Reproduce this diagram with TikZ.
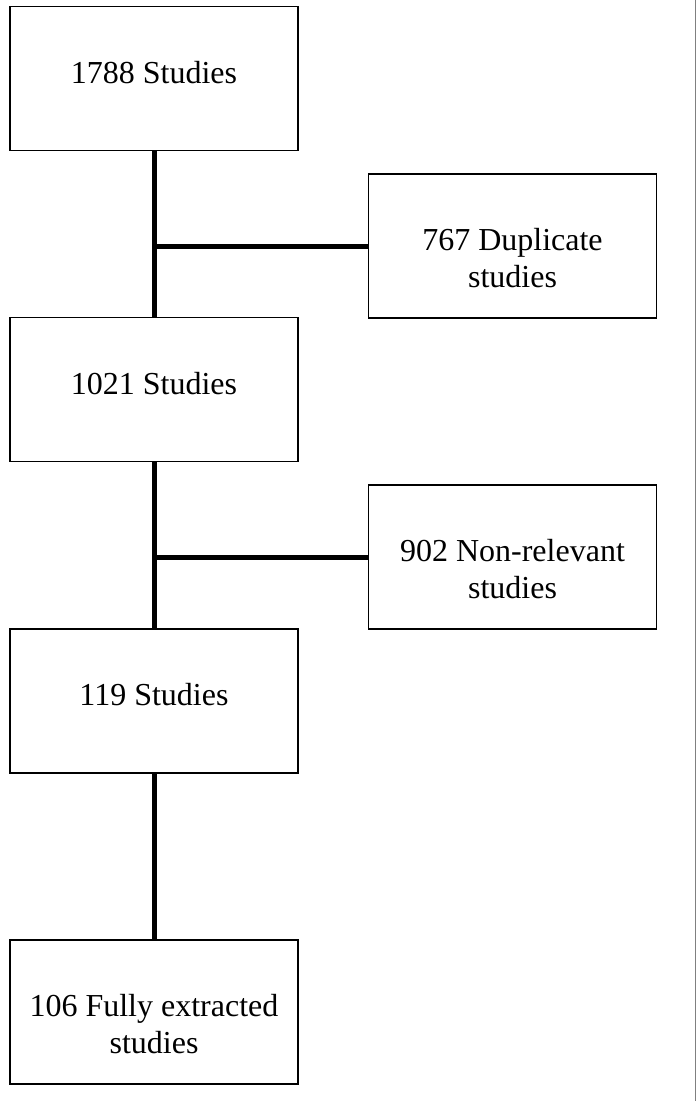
\documentclass[tikz,border=0pt]{standalone}
\usepackage{fontspec}
\setmainfont{Liberation Serif}
\usetikzlibrary{positioning}

% text hangs from the top of each box
\newcommand{\boxtext}[1]{\parbox[c][144pt][t]{288pt}{\centering\rule{0pt}{76.5pt}#1}}

\begin{document}
\begin{tikzpicture}
[x=1pt,y=-1pt,
 box/.style={draw,line width=1.8pt,rectangle,inner sep=0pt,
   font=\fontsize{32}{37}\selectfont},
 link/.style={line width=5pt}]
\useasboundingbox (0,0) rectangle (697,1101);

\node[box] (s1788) at (154,78.5) {\boxtext{1788 Studies}};
\node[box] (dup) at (512.5,246) {\boxtext{767 Duplicate\\studies}};
\node[box] (s1021) at (154,389.5) {\boxtext{1021 Studies}};
\node[box] (nonrel) at (512.5,557) {\boxtext{902 Non-relevant\\studies}};
\node[box] (s119) at (154,701) {\boxtext{119 Studies}};
\node[box] (s106) at (154,1012) {\boxtext{106 Fully extracted\\studies}};

\coordinate (j1) at (s1788.south |- dup.west);
\coordinate (j2) at (s1021.south |- nonrel.west);

\draw[link] (s1788.south) -- (s1021.north);
\draw[link] (j1) -- (dup.west);
\draw[link] (s1021.south) -- (s119.north);
\draw[link] (j2) -- (nonrel.west);
\draw[link] (s119.south) -- (s106.north);

% page edge
\draw[gray,line width=1.2pt] (695.5,0) -- (695.5,1101);
\end{tikzpicture}
\end{document}
